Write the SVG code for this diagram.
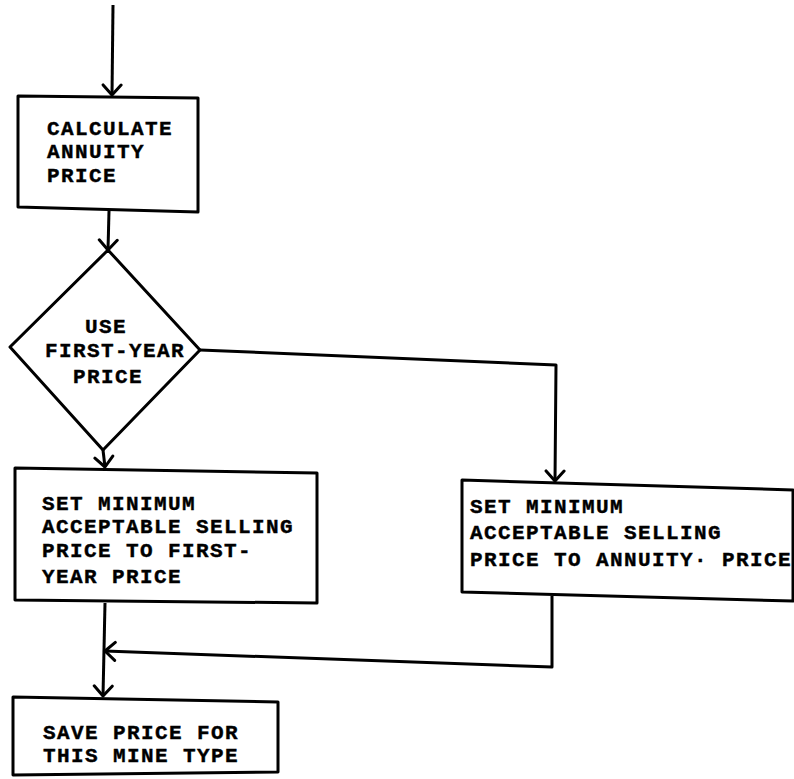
<svg xmlns="http://www.w3.org/2000/svg" width="794" height="779" viewBox="0 0 794 779">
<style>
.box{fill:#fff;stroke:#000;stroke-width:3;stroke-linejoin:round}
.t{font-family:"Liberation Mono","DejaVu Sans Mono",monospace;font-weight:bold;font-size:21px;letter-spacing:1.4px;fill:#000;stroke:#000;stroke-width:0.4}
.c{fill:none;stroke:#000;stroke-width:3;stroke-linejoin:round}
</style>
<defs>
<marker id="ah" viewBox="-12 -11 14 22" refX="0" refY="0" markerWidth="14" markerHeight="22" markerUnits="userSpaceOnUse" orient="auto">
<path d="M-10,-9 L0,0 L-10,9" fill="none" stroke="#000" stroke-width="3" stroke-linecap="round" stroke-linejoin="round"/>
</marker>
</defs>
<rect width="794" height="779" fill="#fff"/>
<g id="connectors">
<path class="c" d="M113,5 L112,95" marker-end="url(#ah)"/>
<path class="c" d="M109,211 L108,250" marker-end="url(#ah)"/>
<path class="c" d="M103,450 L105,467" marker-end="url(#ah)"/>
<path class="c" d="M200,350 L556,365 L555,481" marker-end="url(#ah)"/>
<path class="c" d="M105,603 L103,696" marker-end="url(#ah)"/>
<path class="c" d="M552,596 L552,667 L105,651" marker-end="url(#ah)"/>
</g>
<g id="calc">
<polygon class="box" points="18,96 198,98 198,212 18,207"/>
<text class="t" x="47" y="135">CALCULATE</text>
<text class="t" x="47" y="158">ANNUITY</text>
<text class="t" x="47" y="182">PRICE</text>
</g>
<g id="decision">
<polygon class="box" points="108,250 200,350 103,450 10,347"/>
<text class="t" x="85" y="333">USE</text>
<text class="t" x="45" y="357">FIRST-YEAR</text>
<text class="t" x="73" y="383">PRICE</text>
</g>
<g id="setFirst">
<polygon class="box" points="15,468 317,473 317,603 15,600"/>
<text class="t" x="42" y="510">SET MINIMUM</text>
<text class="t" x="42" y="533">ACCEPTABLE SELLING</text>
<text class="t" x="42" y="557">PRICE TO FIRST-</text>
<text class="t" x="42" y="583">YEAR PRICE</text>
</g>
<g id="setAnnuity">
<polygon class="box" points="462,480 793,490 793,601 462,592"/>
<text class="t" x="470" y="513">SET MINIMUM</text>
<text class="t" x="470" y="539">ACCEPTABLE SELLING</text>
<text class="t" x="470" y="566">PRICE TO ANNUITY· PRICE</text>
</g>
<g id="save">
<polygon class="box" points="13,697 278,702 278,772 13,775"/>
<text class="t" x="43" y="739">SAVE PRICE FOR</text>
<text class="t" x="43" y="762">THIS MINE TYPE</text>
</g>
</svg>
